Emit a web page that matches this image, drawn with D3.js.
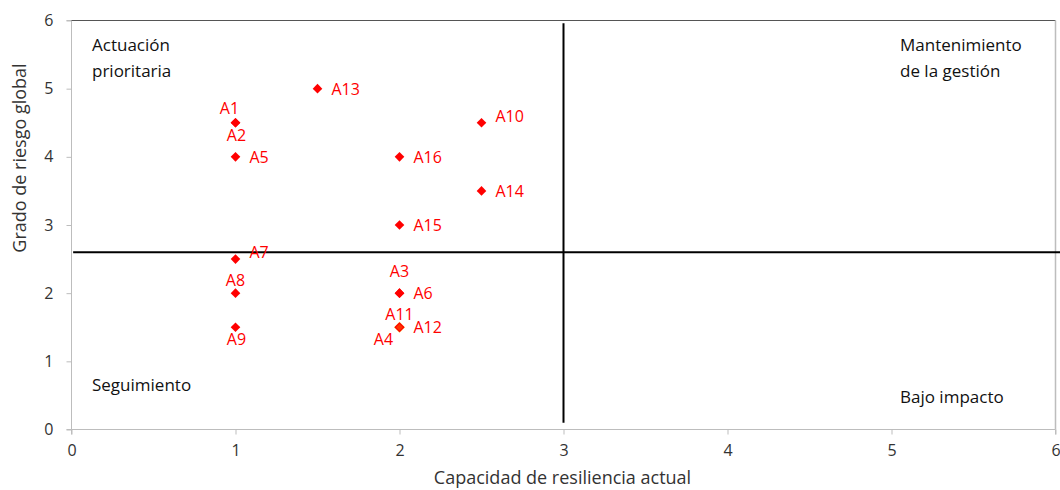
<!DOCTYPE html>
<html>
<head>
<meta charset="utf-8">
<script src="https://cdn.jsdelivr.net/npm/d3@7"></script>
<style>
  body { margin: 0; background: #fff; }
  svg { display: block; font-family: "Open Sans", Lato, sans-serif; }
</style>
</head>
<body>
<svg id="chart" width="1060" height="490"></svg>
<script>
const labels = ["A1","A2","A5","A13","A10","A16","A14","A15","A7","A8","A9","A3","A6","A11","A12","A4"];
const resilience = [1, 1, 1, 1.5, 2.5, 2, 2.5, 2, 1, 1, 1, 2, 2, 2, 2, 2];
const risk = [4.5, 4.5, 4, 5, 4.5, 4, 3.5, 3, 2.5, 2, 1.5, 2, 2, 1.5, 1.5, 1.5];
const labelPlacement = ["aboveLeft","below","right","right","rightUp","right","right","right","rightUp","above","below","aboveHigh","right","above","right","belowLeft"];
const xTicks = [0, 1, 2, 3, 4, 5, 6];
const yTicks = [0, 1, 2, 3, 4, 5, 6];
const riskThreshold = 2.6;
const resilienceThreshold = 3;
const xTitle = "Capacidad de resiliencia actual";
const yTitle = "Grado de riesgo global";

const FONT = "'Open Sans', Lato, sans-serif";
const svg = d3.select("#chart");
const x = d3.scaleLinear().domain([0, 6]).range([71.5, 1055.5]);
const y = d3.scaleLinear().domain([0, 6]).range([429.5, 20.5]);

// axes
const xAxis = svg.append("g").attr("transform", `translate(0,${y(0)})`)
  .call(d3.axisBottom(x).tickValues(xTicks).tickSize(5).tickPadding(10).tickFormat(d3.format("d")));
const yAxis = svg.append("g").attr("transform", `translate(${x(0)},0)`)
  .call(d3.axisLeft(y).tickValues(yTicks).tickSize(5).tickPadding(13).tickFormat(d3.format("d")));
[xAxis, yAxis].forEach(g => {
  g.selectAll("path, line").attr("stroke", "#bdbdbd").attr("stroke-width", 1);
  g.selectAll("text").attr("fill", "#333").style("font-size", "16px").style("font-family", FONT);
});
yAxis.select(".domain").attr("d", `M-5,${y(0)}H0V${y(6)}H-5`);
xAxis.select(".domain").attr("d", `M0,5V0H${x(6)-x(0)}V5`).attr("transform", `translate(${x(0)},0)`);

// plot border: top dark, right light
svg.append("line").attr("x1", x(0)).attr("x2", x(6)).attr("y1", y(6)).attr("y2", y(6))
  .attr("stroke", "#555").attr("stroke-width", 1.2);
svg.append("line").attr("x1", x(6)).attr("x2", x(6)).attr("y1", y(6)).attr("y2", y(0))
  .attr("stroke", "#bdbdbd").attr("stroke-width", 1.5);

// quadrant lines
svg.append("line").attr("x1", x(0.01)).attr("x2", 1060).attr("y1", y(riskThreshold)).attr("y2", y(riskThreshold))
  .attr("stroke", "#000").attr("stroke-width", 2);
svg.append("line").attr("x1", x(resilienceThreshold)).attr("x2", x(resilienceThreshold))
  .attr("y1", y(5.96)).attr("y2", y(0.1))
  .attr("stroke", "#000").attr("stroke-width", 2);

// quadrant labels
function qLabel(lines, px, py) {
  const t = svg.append("text").attr("x", px).attr("y", py).attr("fill", "#111")
    .style("font-size", "17px");
  lines.forEach((l, i) => t.append("tspan").attr("x", px).attr("dy", i === 0 ? 0 : 26).text(l));
}
qLabel(["Actuación", "prioritaria"], 92, 51);
qLabel(["Mantenimiento", "de la gestión"], 900, 51);
qLabel(["Seguimiento"], 92, 391);
qLabel(["Bajo impacto"], 900, 403);

// axis titles
svg.append("text").attr("x", (x(0) + x(6)) / 2 - 1).attr("y", 484).attr("text-anchor", "middle")
  .attr("fill", "#333").style("font-size", "18px").text(xTitle);
svg.append("text").attr("transform", `translate(26,158) rotate(-90)`).attr("text-anchor", "middle")
  .attr("fill", "#333").style("font-size", "18px").text(yTitle);

// points
const data = labels.map((l, i) => ({ label: l, x: resilience[i], y: risk[i], pos: labelPlacement[i] }));
const diamond = r => `M0,${-r}L${r},0L0,${r}L${-r},0Z`;
const pts = svg.append("g");
data.filter(d => d.label === "A4").forEach(d => {
  pts.append("path").attr("d", diamond(5.5)).attr("transform", `translate(${x(d.x)},${y(d.y)})`)
    .attr("fill", "#f7a33a");
});
data.forEach(d => {
  pts.append("path").attr("d", diamond(d.label === "A4" ? 3.5 : 4.8))
    .attr("transform", `translate(${x(d.x)},${y(d.y)})`)
    .attr("fill", d.label === "A4" ? "#ff3300" : "#ff0000");
});

const offsets = {
  right:     { dx: 14, dy: 6, anchor: "start" },
  rightUp:   { dx: 14, dy: -1, anchor: "start" },
  above:     { dx: 0, dy: -7, anchor: "middle" },
  aboveHigh: { dx: 0, dy: -16, anchor: "middle" },
  aboveLeft: { dx: -6, dy: -9, anchor: "middle" },
  below:     { dx: 1, dy: 18, anchor: "middle" },
  belowLeft: { dx: -16, dy: 18, anchor: "middle" }
};
svg.append("g").selectAll("text").data(data).join("text")
  .attr("x", d => x(d.x) + offsets[d.pos].dx)
  .attr("y", d => y(d.y) + offsets[d.pos].dy)
  .attr("text-anchor", d => offsets[d.pos].anchor)
  .attr("fill", "#ff0000")
  .style("font-size", "16px")
  .text(d => d.label);
</script>
</body>
</html>
